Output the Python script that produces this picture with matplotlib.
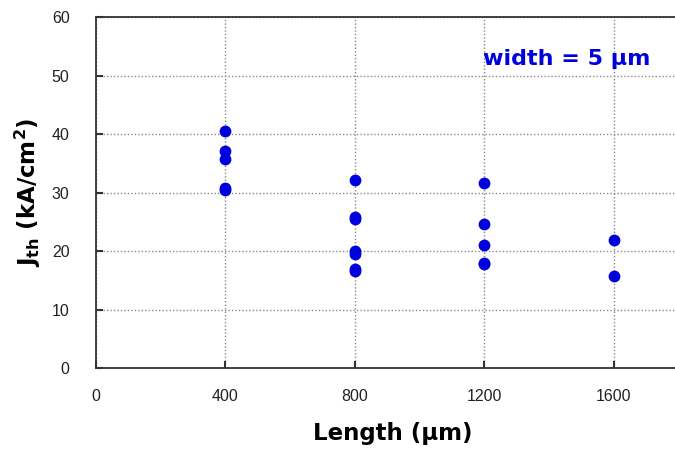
import matplotlib.pyplot as plt

# cavity length (um) and threshold current density (kA/cm^2)
length = [400, 400, 400, 400, 400,
          800, 800, 800, 800, 800, 800, 800,
          1200, 1200, 1200, 1200, 1200,
          1600, 1600]
jth = [40.5, 37.1, 35.7, 30.8, 30.5,
       32.1, 25.8, 25.5, 20.0, 19.5, 17.0, 16.5,
       31.6, 24.7, 21.0, 18.0, 17.7,
       21.8, 15.7]

x_ticks = [0, 400, 800, 1200, 1600]
y_ticks = [0, 10, 20, 30, 40, 50, 60]

fig = plt.figure(figsize=(6.75, 4.57), dpi=100)
ax = fig.add_axes([0.1422, 0.1947, 0.8578, 0.7681])

ax.plot(length, jth, 'o', color='#0000dd', markersize=8.5, markeredgewidth=0)

ax.set_xlim(0, 1789)
ax.set_ylim(0, 60)
ax.set_xticks(x_ticks)
ax.set_yticks(y_ticks)
ax.grid(True, linestyle=(0, (1, 1.5)), color='#888888', linewidth=1)
ax.set_axisbelow(True)

ax.spines['right'].set_visible(False)
for s in ['left', 'top', 'bottom']:
    ax.spines[s].set_linewidth(1.3)
    ax.spines[s].set_color('#333333')

ax.tick_params(direction='in', length=5, width=1.5, color='#333333',
               labelsize=11.5, labelcolor='#222222')
ax.tick_params(axis='x', pad=15)
ax.tick_params(axis='y', pad=19)
for lab in ax.get_xticklabels() + ax.get_yticklabels():
    lab.set_family('Liberation Sans')

ax.set_xlabel('Length (\u03bcm)', fontsize=16.5, fontweight='bold', labelpad=16)
ax.xaxis.set_label_coords(0.513, -0.155)
ax.set_ylabel(r'$\mathbf{J_{th}}$ (kA/cm$^\mathbf{2}$)', fontsize=16.5,
              fontweight='bold', labelpad=6)

ax.text(1455, 52.8, 'width = 5 \u03bcm', color='#0000dd', fontsize=16,
        fontweight='bold', ha='center', va='center')

plt.savefig('out.png', dpi=100)
